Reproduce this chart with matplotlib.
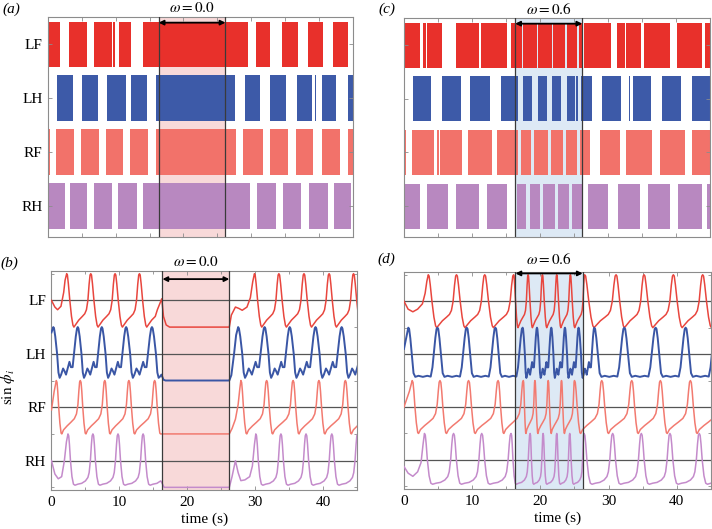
#!/usr/bin/env python3

# INFRASTRUCTURE

import matplotlib
matplotlib.use('Agg')
import matplotlib.pyplot as plt
import matplotlib.transforms as mtransforms


# DATA

legs = ['LF', 'LH', 'RF', 'RH']
leg_rows = [3, 2, 1, 0]          # gait diagram rows, top to bottom
leg_offsets = [6, 4, 2, 0]       # baselines of the sin(phi) traces
t_max = 45.0
shade_span = (16.35, 26.2)
omega_labels = ['0.0', '0.6']

bar_colors = ['#e8302b', '#3d5aa8', '#f2726a', '#b888c0']
line_colors = ['#e8463e', '#3a56a5', '#f27a70', '#c48bcb']
shade_colors = ['#f8d9d9', '#dde9f5']

# (a) stance intervals (s), omega = 0.0
gait_a_LF = [(0.0, 1.77), (3.1, 5.8), (6.83, 9.4), (9.6, 9.9), (10.5, 12.3), (14.0, 29.5),
             (30.7, 32.8), (34.6, 36.9), (38.4, 40.6), (42.1, 44.3)]
gait_a_LH = [(1.37, 3.64), (5.0, 7.33), (8.65, 11.5), (12.24, 14.56), (16.0, 27.6), (29.07, 31.3),
             (32.8, 35.1), (36.7, 39.0), (39.4, 39.6), (40.4, 42.6), (44.3, 45.0)]
gait_a_RF = [(0.0, 0.3), (1.18, 3.84), (4.87, 7.52), (8.55, 11.1), (12.1, 14.8), (16.0, 27.8),
             (28.8, 31.8), (32.75, 35.45), (36.6, 39.1), (40.4, 43.1), (44.3, 45.0)]
gait_a_RH = [(0.0, 2.5), (3.25, 5.8), (6.8, 9.4), (10.4, 13.1), (14.06, 29.8), (30.8, 33.7),
             (34.7, 37.4), (38.55, 41.35), (42.3, 44.8)]

# (c) stance intervals (s), omega = 0.6
gait_c_LF = [(0.05, 2.35), (2.84, 3.2), (3.4, 5.6), (7.6, 11.0), (11.3, 15.2), (15.8, 17.3),
             (17.5, 19.5), (19.75, 21.7), (21.95, 23.7), (23.9, 25.5), (25.7, 26.2), (26.5, 30.5),
             (31.3, 32.5), (32.7, 34.9), (35.3, 39.1), (40.1, 43.8), (44.3, 45.0)]
gait_c_LH = [(0.0, 0.15), (1.37, 3.97), (5.6, 8.4), (9.7, 12.6), (14.2, 16.7), (17.5, 18.8),
             (19.75, 21.0), (21.7, 23.1), (23.9, 25.1), (25.3, 25.6), (26.0, 27.6), (29.1, 31.85),
             (33.0, 33.2), (33.6, 36.3), (37.97, 40.7), (42.3, 45.0)]
gait_c_RF = [(0.0, 0.3), (1.2, 4.4), (4.9, 5.15), (5.3, 8.6), (9.46, 13.0), (13.6, 16.8),
             (17.2, 18.7), (19.1, 21.2), (21.6, 23.4), (23.8, 25.5), (25.9, 27.3), (28.8, 31.75),
             (32.7, 36.4), (37.6, 41.3), (42.3, 45.0)]
gait_c_RH = [(0.0, 2.35), (3.4, 6.5), (7.7, 11.0), (12.15, 15.2), (16.6, 18.0), (18.5, 20.0),
             (20.5, 22.2), (22.7, 24.2), (24.7, 26.3), (27.0, 30.0), (31.5, 34.7), (35.9, 39.1),
             (40.3, 43.8), (44.5, 45.0)]

# one oscillation, peak to next peak: (fraction of cycle, sin phi)
shape_LF = [(0, 1), (0.03, 0.95), (0.07, 0.62), (0.13, 0.0), (0.2, -0.6), (0.26, -0.93), (0.3, -1.0),
            (0.36, -0.92), (0.5, -0.74), (0.65, -0.6), (0.75, -0.5), (0.82, -0.35), (0.88, 0.0),
            (0.93, 0.6), (0.97, 0.95), (1, 1)]
shape_RF = [(0, 1), (0.03, 0.93), (0.06, 0.6), (0.1, 0.0), (0.15, -0.6), (0.2, -0.97), (0.23, -1.0),
            (0.3, -0.85), (0.45, -0.7), (0.6, -0.57), (0.75, -0.43), (0.84, -0.25), (0.9, 0.1),
            (0.94, 0.62), (0.97, 0.94), (1, 1)]
shape_RH = [(0, 1), (0.03, 0.93), (0.06, 0.6), (0.1, 0.0), (0.16, -0.6), (0.22, -0.88), (0.28, -0.92),
            (0.4, -0.88), (0.55, -0.85), (0.7, -0.76), (0.8, -0.63), (0.85, -0.45), (0.9, 0.0),
            (0.94, 0.6), (0.97, 0.93), (1, 1)]
shape_LH_bumpy = [(0, 1), (0.03, 0.95), (0.08, 0.65), (0.155, 0.0), (0.21, -0.7), (0.26, -0.9),
                  (0.32, -0.78), (0.4, -0.55), (0.46, -0.65), (0.52, -0.78), (0.6, -0.5), (0.66, -0.3),
                  (0.72, -0.5), (0.79, -0.5), (0.845, 0.0), (0.92, 0.65), (0.97, 0.95), (1, 1)]
shape_LH_calm = [(0, 1), (0.03, 0.95), (0.07, 0.6), (0.13, -0.1), (0.18, -0.72), (0.24, -0.86),
                 (0.35, -0.82), (0.5, -0.86), (0.65, -0.82), (0.77, -0.85), (0.83, -0.5), (0.88, 0.05),
                 (0.93, 0.62), (0.97, 0.95), (1, 1)]

# (b) omega = 0.0: peak times (s) and hand-read knots around the stop
b_LF_lead = [(0.0, 0.0), (0.5, -0.25), (0.9, -0.35), (1.4, -0.22), (1.8, 0.3), (2.0, 0.75)]
b_LF_peaks_pre = [2.24, 5.79, 9.37, 12.96]
b_LF_stop_in = [(15.6, -0.35), (16.0, -0.1), (16.25, 0.06), (16.5, -0.6), (16.9, -0.92), (17.4, -1.0)]
b_LF_stop_out = [(26.5, -0.55), (27.1, -0.25), (27.6, -0.3), (28.1, -0.37), (28.8, -0.25), (29.3, 0.1), (29.65, 0.7)]
b_LF_peaks_post = [29.9, 33.5, 37.2, 40.9, 44.5]

b_LH_lead = [(0.0, 0.8)]
b_LH_peaks_pre = [0.27, 3.87, 7.41, 11.0, 14.8]
b_LH_stop_in = [(16.0, -0.85), (16.2, -0.78), (16.5, -0.97), (16.8, -1.0)]
b_LH_stop_out = [(26.5, -0.8), (26.9, 0.0), (27.2, 0.7)]
b_LH_peaks_post = [27.5, 31.4, 35.1, 38.9, 42.75]

b_RF_lead = [(0.0, -0.1), (0.4, 0.6)]
b_RF_peaks_pre = [0.71, 4.25, 7.85, 11.4, 15.2]
b_RF_stop_in = [(16.1, -1.0)]
b_RF_stop_out = [(26.6, -0.8), (27.1, -0.45), (27.5, 0.1), (27.75, 0.7)]
b_RF_peaks_post = [27.9, 31.7, 35.6, 39.4, 43.3]

b_RH_lead = [(0.0, 0.0), (0.5, -0.5), (1.0, -0.68), (1.5, -0.6), (1.9, 0.0), (2.2, 0.7)]
b_RH_peaks_pre = [2.43, 6.1, 9.8, 13.5]
b_RH_stop_in = [(16.2, -0.8), (16.6, -1.0)]
b_RH_stop_out = [(26.6, -0.6), (27.1, 0.0), (27.5, -0.45), (27.9, -0.75), (28.5, -0.72),
                 (29.2, -0.6), (29.6, -0.2), (29.9, 0.6)]
b_RH_peaks_post = [30.1, 33.8, 37.5, 41.3]

# (d) omega = 0.6: peak times (s)
d_LF_lead = [(0.0, 0.0), (0.6, -0.3), (1.3, -0.4), (2.0, -0.3), (2.7, -0.1), (3.1, 0.3), (3.35, 0.75)]
d_LF_peaks = [3.56, 7.7, 11.84, 16.08, 18.2, 20.3, 22.4, 24.4, 26.5, 31.1, 35.2, 39.5, 43.8]
d_LH_lead = [(0.0, 0.2)]
d_LH_peaks = [0.63, 4.9, 9.2, 13.4, 17.4, 19.5, 21.6, 23.6, 25.6, 27.9, 32.3, 36.9, 41.3]
d_RF_lead = [(0.0, 0.0), (0.8, 0.6)]
d_RF_peaks = [1.2, 5.28, 9.47, 13.8, 17.5, 19.2, 21.15, 23.1, 25.0, 29.0, 33.4, 37.6, 42.0]
d_RH_lead = [(0.0, -0.25), (0.6, -0.5), (1.3, -0.62), (2.0, -0.45), (2.5, -0.1), (2.8, 0.6)]
d_RH_peaks = [3.0, 7.27, 11.4, 15.7, 18.5, 20.4, 22.4, 24.3, 26.4, 30.6, 34.8, 39.0, 43.3]


# ORCHESTRATOR

def figure_workflow() -> None:
    plt.rcParams['font.family'] = 'serif'
    plt.rcParams['font.serif'] = ['Liberation Serif', 'DejaVu Serif']
    plt.rcParams['mathtext.fontset'] = 'stix'

    fig = plt.figure(figsize=(7.12, 5.29), dpi=100)
    ax_a = fig.add_axes([0.0674, 0.552, 0.428, 0.416])
    ax_c = fig.add_axes([0.5674, 0.552, 0.430, 0.414])
    ax_b = fig.add_axes([0.0723, 0.0737, 0.429, 0.414])
    ax_d = fig.add_axes([0.5674, 0.0756, 0.431, 0.410])

    draw_gait(ax_a, [gait_a_LF, gait_a_LH, gait_a_RF, gait_a_RH], shade_colors[0], True)
    draw_gait(ax_c, [gait_c_LF, gait_c_LH, gait_c_RF, gait_c_RH], shade_colors[1], False)

    traces_b = [stopped_trace(b_LF_lead, b_LF_peaks_pre, b_LF_stop_in, b_LF_stop_out, b_LF_peaks_post, shape_LF),
                stopped_trace(b_LH_lead, b_LH_peaks_pre, b_LH_stop_in, b_LH_stop_out, b_LH_peaks_post, shape_LH_bumpy),
                stopped_trace(b_RF_lead, b_RF_peaks_pre, b_RF_stop_in, b_RF_stop_out, b_RF_peaks_post, shape_RF),
                stopped_trace(b_RH_lead, b_RH_peaks_pre, b_RH_stop_in, b_RH_stop_out, b_RH_peaks_post, shape_RH)]
    traces_d = [driven_trace(d_LF_lead, d_LF_peaks, shape_LF),
                driven_trace(d_LH_lead, d_LH_peaks, shape_LH_calm, shape_LH_bumpy),
                driven_trace(d_RF_lead, d_RF_peaks, shape_RF),
                driven_trace(d_RH_lead, d_RH_peaks, shape_RH)]
    draw_traces(ax_b, traces_b, shade_colors[0], True)
    draw_traces(ax_d, traces_d, shade_colors[1], False)

    add_omega(ax_a, omega_labels[0], 0.974, 1.042)
    add_omega(ax_c, omega_labels[1], 0.974, 1.040)
    add_omega(ax_b, omega_labels[0], 0.963, 1.042)
    add_omega(ax_d, omega_labels[1], 0.994, 1.058)

    for x, y, s in [(0.003, 0.983, '(a)'), (0.531, 0.983, '(c)'),
                    (0.001, 0.503, '(b)'), (0.530, 0.510, '(d)')]:
        fig.text(x, y, s, fontsize=11, style='italic', va='center')

    fig.savefig('out.png', dpi=100)
    plt.close(fig)


# FUNCTIONS

# Knots for successive cycles, from the first peak up to t_end
def cycle_knots(peaks, shape, t_end, alt_shape=None):
    ts, ys = [], []
    ext = list(peaks) + [2 * peaks[-1] - peaks[-2]]
    for p0, p1 in zip(ext[:-1], ext[1:]):
        sh = shape
        if alt_shape is not None and shade_span[0] <= p0 < shade_span[1]:
            sh = alt_shape
        for u, v in sh[:-1]:
            t = p0 + u * (p1 - p0)
            if t >= t_end:
                return ts, ys
            ts.append(t)
            ys.append(v)
    ts.append(ext[-1])
    ys.append(shape[-1][1])
    return ts, ys


# Trace of panel (b): walking, frozen at sin phi = -1 inside the shaded span, walking again
def stopped_trace(lead, pre, stop_in, stop_out, post, shape):
    ts = [k[0] for k in lead]
    ys = [k[1] for k in lead]
    t1, y1 = cycle_knots(pre, shape, stop_in[0][0])
    t2, y2 = cycle_knots(post, shape, t_max + 0.5)
    ts += t1 + [k[0] for k in stop_in] + [shade_span[1]] + [k[0] for k in stop_out] + t2
    ys += y1 + [k[1] for k in stop_in] + [-1.0] + [k[1] for k in stop_out] + y2
    return ts, ys


# Trace of panel (d): continuous rhythm, faster inside the shaded span
def driven_trace(lead, peaks, shape, alt_shape=None):
    t1, y1 = cycle_knots(peaks, shape, t_max + 0.5, alt_shape)
    return [k[0] for k in lead] + t1, [k[1] for k in lead] + y1


def style_axis(ax):
    for sp in ax.spines.values():
        sp.set_color('#8c8c8c')
        sp.set_linewidth(0.8)
    ax.tick_params(which='both', direction='in', top=True, right=True,
                   color='#8c8c8c', width=0.6, labelsize=11, pad=4)
    ax.tick_params(which='major', length=3)
    ax.tick_params(which='minor', length=2)
    ax.set_xlim(0, t_max)


def draw_shade(ax, color):
    ax.axvspan(*shade_span, color=color, lw=0, zorder=0)
    for x in shade_span:
        ax.axvline(x, color='#3a3a3a', lw=0.9, zorder=4)


# Gait diagram: one row of stance bars per leg
def draw_gait(ax, intervals, shade_color, labels):
    draw_shade(ax, shade_color)
    for row, color, spans in zip(leg_rows, bar_colors, intervals):
        ax.broken_barh([(s, e - s) for s, e in spans], (row - 0.42, 0.84),
                       facecolors=color, edgecolor='none', zorder=1)
    style_axis(ax)
    ax.set_ylim(-0.575, 3.505)
    ax.set_xticks(range(0, 46, 5))
    ax.set_xticklabels([])
    ax.set_yticks(leg_rows)
    ax.set_yticklabels(legs if labels else [])


# sin(phi) traces stacked on their baselines
def draw_traces(ax, traces, shade_color, labels):
    draw_shade(ax, shade_color)
    for off in leg_offsets:
        ax.axhline(off, color='#555555', lw=0.9, zorder=2)
    for (ts, ys), off, color, leg in zip(traces, leg_offsets, line_colors, legs):
        ax.plot(ts, [y + off for y in ys], color=color,
                lw=1.4 if leg == 'LH' else 1.1, zorder=3)
    style_axis(ax)
    ax.set_ylim(-1.1, 7.1)
    ax.set_xticks([0, 10, 20, 30, 40])
    ax.set_xticks([5, 15, 25, 35, 45], minor=True)
    ax.set_yticks(leg_offsets)
    ax.set_yticks([7, 5, 3, 1, -1], minor=True)
    ax.set_yticklabels(legs if labels else [])
    ax.set_xlabel('time (s)', fontsize=11, labelpad=3)
    if labels:
        ax.set_ylabel(r'$\sin\,\phi_i$', fontsize=11)
        ax.yaxis.set_label_coords(-0.112, 0.47)


# Double arrow across the shaded span with its omega label
def add_omega(ax, value, y_arrow, y_text):
    trans = mtransforms.blended_transform_factory(ax.transData, ax.transAxes)
    ax.annotate('', xy=(shade_span[1], y_arrow), xytext=(shade_span[0], y_arrow),
                xycoords=trans, textcoords=trans, annotation_clip=False,
                arrowprops=dict(arrowstyle='<|-|>', color='black', lw=1.3,
                                shrinkA=0, shrinkB=0, mutation_scale=7), zorder=6)
    ax.text(sum(shade_span) / 2, y_text, r'$\omega = ' + value + '$', transform=trans,
            ha='center', va='center', fontsize=11)


if __name__ == "__main__":
    figure_workflow()
